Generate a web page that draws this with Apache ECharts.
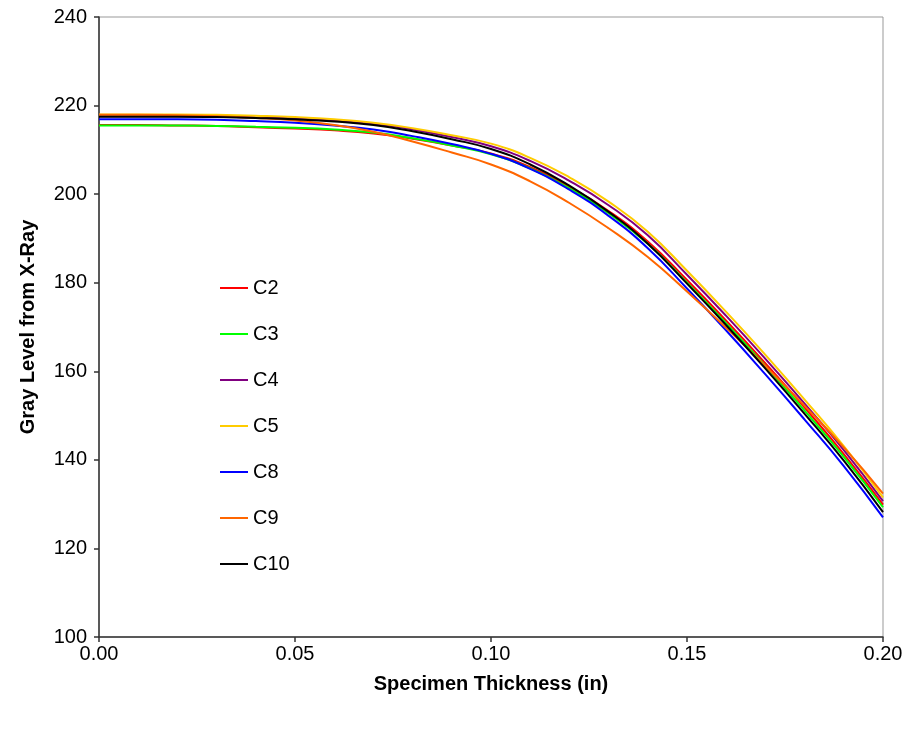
<!DOCTYPE html>
<html>
<head>
<meta charset="utf-8">
<script src="https://cdn.jsdelivr.net/npm/echarts@6/dist/echarts.min.js"></script>
<style>
html,body{margin:0;padding:0;background:#fff;}
#chart{width:916px;height:729px;}
</style>
</head>
<body>
<div id="chart"></div>
<script>
const thickness = [0.00,0.01,0.02,0.03,0.04,0.05,0.06,0.07,0.08,0.09,0.10,0.11,0.12,0.13,0.14,0.15,0.16,0.17,0.18,0.19,0.20];
const C2  = [215.6,215.6,215.5,215.4,215.1,214.8,214.4,213.7,212.5,211.0,209.2,206.1,201.7,196.2,189.3,180.6,171.4,161.8,151.8,141.3,129.9];
const C3  = [215.5,215.5,215.5,215.4,215.2,215.0,214.6,213.9,212.6,211.0,209.0,205.8,201.3,195.7,188.8,180.0,170.8,161.2,151.1,140.7,129.3];
const C4  = [217.6,217.6,217.6,217.5,217.3,217.1,216.6,215.9,214.6,212.9,210.8,207.5,203.0,197.5,190.7,181.8,172.5,162.8,152.7,142.2,130.7];
const C5  = [218.0,218.0,218.0,217.9,217.7,217.4,216.9,216.1,214.9,213.3,211.4,208.2,203.8,198.3,191.5,182.7,173.4,163.7,153.6,143.1,131.5];
const C8  = [216.9,216.9,216.9,216.8,216.5,216.1,215.5,214.6,213.1,211.3,209.1,205.7,201.0,195.1,187.8,178.7,169.2,159.3,149.1,138.6,127.0];
const C9  = [217.9,217.9,217.8,217.6,217.2,216.6,215.6,214.1,211.9,209.4,206.7,202.9,198.0,192.3,185.8,178.0,169.8,161.2,152.2,142.8,132.4];
const C10 = [217.5,217.5,217.5,217.4,217.2,216.9,216.4,215.6,214.2,212.4,210.2,206.7,201.9,196.0,188.8,179.8,170.4,160.6,150.4,139.8,128.2];
const seriesNames = ['C2','C3','C4','C5','C8','C9','C10'];
const seriesValues = [C2,C3,C4,C5,C8,C9,C10];
const seriesColors = ['#FF0000','#00FF00','#800080','#FFCC00','#0000FF','#FF6600','#000000'];
const yTicks = [100,120,140,160,180,200,220,240];
const xTicks = [0.00,0.05,0.10,0.15,0.20];

const FONT = 'Liberation Sans, Arial, sans-serif';
const chart = echarts.init(document.getElementById('chart'), null, {renderer:'canvas'});
chart.setOption({
  animation:false,
  backgroundColor:'#ffffff',
  grid:{left:99,right:33,top:17,bottom:92,show:true,borderColor:'#999999',borderWidth:1,backgroundColor:'transparent'},
  xAxis:{
    type:'value',min:xTicks[0],max:xTicks[xTicks.length-1],interval:0.05,
    name:'Specimen Thickness (in)',nameLocation:'middle',nameGap:37,
    nameTextStyle:{fontFamily:FONT,fontSize:20,fontWeight:'bold',color:'#000'},
    axisLine:{lineStyle:{color:'#333',width:1.5}},
    axisTick:{show:true,inside:false,length:5,lineStyle:{color:'#333',width:1.5}},
    axisLabel:{fontFamily:FONT,fontSize:20,color:'#000',margin:7,formatter:v=>v.toFixed(2)},
    splitLine:{show:false}
  },
  yAxis:{
    type:'value',min:yTicks[0],max:yTicks[yTicks.length-1],interval:20,
    name:'Gray Level from X-Ray',nameLocation:'middle',nameGap:61,
    nameTextStyle:{fontFamily:FONT,fontSize:20,fontWeight:'bold',color:'#000'},
    axisLine:{show:true,lineStyle:{color:'#333',width:1.5}},
    axisTick:{show:true,inside:false,length:5,lineStyle:{color:'#333',width:1.5}},
    axisLabel:{fontFamily:FONT,fontSize:20,color:'#000',margin:12},
    splitLine:{show:false}
  },
  legend:{
    orient:'vertical',left:215,top:273,
    icon:'rect',itemWidth:28,itemHeight:2,itemGap:26,
    textStyle:{fontFamily:FONT,fontSize:20,color:'#000',lineHeight:20},
    data:seriesNames
  },
  series:seriesNames.map((n,i)=>({
    name:n,type:'line',showSymbol:false,smooth:true,
    data:thickness.map((x,j)=>[x,seriesValues[i][j]]),
    lineStyle:{color:seriesColors[i],width:2},
    itemStyle:{color:seriesColors[i]}
  }))
});
</script>
</body>
</html>
